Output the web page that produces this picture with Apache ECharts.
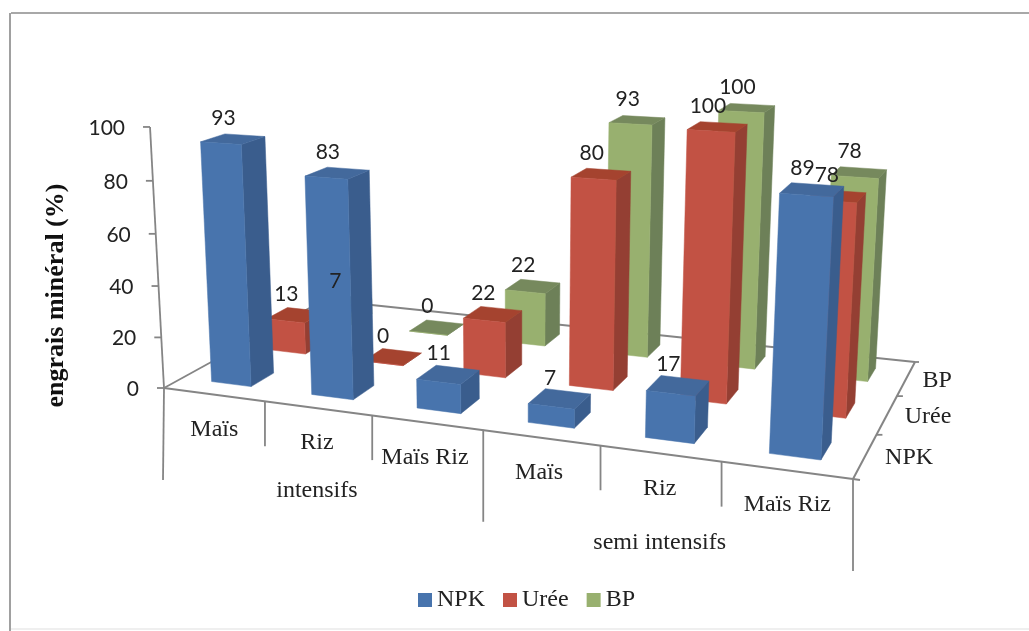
<!DOCTYPE html>
<html><head><meta charset="utf-8">
<style>html,body{margin:0;padding:0;background:#fff}#c{width:1029px;height:631px}</style>
<script src="https://cdn.jsdelivr.net/npm/echarts@6/dist/echarts.min.js"></script>
</head><body><div id="c"></div>
<script>
const categories = ['Maïs','Riz','Maïs Riz','Maïs','Riz','Maïs Riz'];
const groups = ['intensifs','semi intensifs'];
const seriesNames = ['NPK','Urée','BP'];
const npk = [93,83,11,7,17,89];
const uree = [13,0,22,80,100,78];
const bp = [7,0,22,93,100,78];
const yTicks = [0,20,40,60,80,100];

const colors = {
  NPK:{front:'#4874ad',side:'#3a5d8d',top:'#43699c'},
  'Urée':{front:'#c25244',side:'#943f33',top:'#a5432f'},
  BP:{front:'#98b06f',side:'#6d8058',top:'#76895d'}
};
const serif = '"Liberation Serif",serif', sans = 'Lato,sans-serif', ink='#222', axisC='#858585';
// perspective box of the chart
const FL=[164,388],FR=[853,479],BR=[915,362],BL=[324,300],V=[514,6925],K=-0.000384;
const sx=FL[0]-FR[0]+BR[0]-BL[0], sy=FL[1]-FR[1]+BR[1]-BL[1];
const d1x=FR[0]-BR[0], d2x=BL[0]-BR[0], d1y=FR[1]-BR[1], d2y=BL[1]-BR[1];
const den=d1x*d2y-d2x*d1y;
const G=(sx*d2y-d2x*sy)/den, H=(d1x*sy-sx*d1y)/den;
const A=FR[0]-FL[0]+G*FR[0], B=BL[0]-FL[0]+H*BL[0];
const D=FR[1]-FL[1]+G*FR[1], E=BL[1]-FL[1]+H*BL[1];
function proj(u,v,z){
  const s=u/6,t=v/3;
  const w=G*s+H*t+1+K*z;
  return [(A*s+B*t+FL[0]+K*z*V[0])/w,(D*s+E*t+FL[1]+K*z*V[1])/w];
}
// grid rectangle: normalised scale that feeds the projection
const gridL=164,gridW=689,gridT=127,gridH=261;
function scaled(api,i,val){
  const c=api.coord([i,val]);
  return {u:(c[0]-gridL)/gridW*6, z:(gridT+gridH-c[1])/gridH*100};
}
const BW=0.4;
function barRender(depth,name){
  const col=colors[name];
  return function(params,api){
    const {u,z}=scaled(api,api.value(0),api.value(1));
    const u0=u-BW/2,u1=u+BW/2,v0=depth+.5-BW/2,v1=depth+.5+BW/2;
    const poly=(pts,fill)=>({type:'polygon',shape:{points:pts},style:{fill,stroke:fill,lineWidth:.5}});
    return {type:'group',children:[
      poly([proj(u1,v0,0),proj(u1,v1,0),proj(u1,v1,z),proj(u1,v0,z)],col.side),
      poly([proj(u0,v0,z),proj(u1,v0,z),proj(u1,v1,z),proj(u0,v1,z)],col.top),
      poly([proj(u0,v0,0),proj(u1,v0,0),proj(u1,v0,z),proj(u0,v0,z)],col.front)
    ]};
  };
}
function labelRender(depth){
  return function(params,api){
    const {u,z}=scaled(api,api.value(0),api.value(1));
    const p=proj(u,depth+.5,z);
    return {type:'text',x:p[0]-9.5,y:p[1]-21,style:{text:String(api.value(1)),font:'21px '+sans,fill:ink,align:'center',verticalAlign:'middle'}};
  };
}
const seg=(a,b,w)=>({type:'line',shape:{x1:a[0],y1:a[1],x2:b[0],y2:b[1]},style:{stroke:axisC,lineWidth:w||1.8}});
const txt=(x,y,t,font,align)=>({type:'text',x,y,style:{text:t,font,fill:ink,align:align||'center',verticalAlign:'middle'}});

const series=[];
// floor edges
series.push({type:'custom',silent:true,z:1,data:[0],renderItem:()=>({type:'group',children:[
  seg(proj(0,0,0),proj(6,0,0),2),seg(proj(6,0,0),proj(6,3,0),2),
  seg(proj(6,3,0),proj(0,3,0)),seg(proj(0,3,0),proj(0,0,0)),
  seg(proj(0,0,0),proj(0,0,100)),
  seg(proj(6,3,0),[919,362]),seg(proj(6,0,0),[860,480])
]})});
// y ticks and labels
series.push({type:'custom',silent:true,z:1,data:yTicks.map(v=>[0,v]),renderItem:(p,api)=>{
  const {z}=scaled(api,0,api.value(1));const q=proj(0,0,z);
  return {type:'group',children:[seg([q[0]-7,q[1]],q),txt(q[0]-25,q[1]+1,String(api.value(1)),'21px '+sans,'right')]};
}});
// category ticks and labels
const tickDx=[1,3,3,3,0,0];
series.push({type:'custom',silent:true,z:1,data:categories.map((c,i)=>[i,0]),renderItem:(p,api)=>{
  const i=api.value(0),{u}=scaled(api,i,0);
  const q=proj(u,0,0),edge=proj(u+.5,0,0),x=edge[0]+tickDx[i];
  return {type:'group',children:[seg([x,edge[1]],[x,edge[1]+(i%3===2?92:45)]),txt(q[0]+1,q[1]+35,categories[i],'24px '+serif)]};
}});
// group labels and first tick
series.push({type:'custom',silent:true,z:1,data:groups.map((g,i)=>[i*3+1,0]),renderItem:(p,api)=>{
  const gi=p.dataIndex,{u}=scaled(api,api.value(0),0),q=proj(u,0,0);
  return txt(q[0]+1,q[1]+(gi?89:83),groups[gi],'24px '+serif);
}});
series.push({type:'custom',silent:true,z:1,data:[0],renderItem:()=>seg(proj(0,0,0),[FL[0]-1,FL[1]+92])});
// depth ticks and labels
const depthDx=[44,41,31];
series.push({type:'custom',silent:true,z:1,data:seriesNames.map((n,i)=>[i,0]),renderItem:(p,api)=>{
  const d=api.value(0),q=proj(6,d+.5,0),e=proj(6,d+1,0);
  return {type:'group',children:[d<2?seg(e,[e[0]+6,e[1]]):seg(e,e),txt(q[0]+depthDx[d],q[1]+2,seriesNames[d],'24px '+serif,'center')]};
}});
// bars, back row first
[[ 'BP',bp,2],['Urée',uree,1],['NPK',npk,0]].forEach(([name,vals,d],k)=>{
  series.push({name,type:'custom',silent:true,z:2+k,itemStyle:{color:colors[name].front},
    encode:{x:0,y:1},data:vals.map((v,i)=>[i,v]),renderItem:barRender(d,name)});
});
[[bp,2],[uree,1],[npk,0]].forEach(([vals,d])=>{
  series.push({type:'custom',silent:true,z:8,encode:{x:0,y:1},data:vals.map((v,i)=>[i,v]),renderItem:labelRender(d)});
});

const chart=echarts.init(document.getElementById('c'),null,{renderer:'canvas'});
chart.setOption({
  animation:false,backgroundColor:'#fff',
  grid:{left:gridL,top:gridT,width:gridW,height:gridH},
  xAxis:{type:'category',data:categories,show:false},
  yAxis:{type:'value',min:0,max:100,interval:20,axisLine:{show:false},axisTick:{show:false},axisLabel:{show:false},splitLine:{show:false},
    name:'engrais minéral (%)',nameLocation:'middle',nameRotate:90,nameGap:95,
    nameTextStyle:{fontFamily:serif,fontWeight:'bold',fontSize:26,color:'#111',padding:[0,76,0,0]}},
  legend:{data:seriesNames,left:413,top:583,itemWidth:14,itemHeight:14,itemGap:18,icon:'rect',selectedMode:false,
    textStyle:{fontFamily:serif,fontSize:24,color:ink}},
  graphic:[
    {type:'line',shape:{x1:11,y1:13,x2:1029,y2:13},style:{stroke:'#a8a8a8',lineWidth:2}},
    {type:'line',shape:{x1:10,y1:13,x2:10,y2:631},style:{stroke:'#a0a0a0',lineWidth:2}},
    {type:'line',shape:{x1:11,y1:629,x2:1029,y2:629},style:{stroke:'#efefef',lineWidth:2}}
  ],
  series
});
</script></body></html>
